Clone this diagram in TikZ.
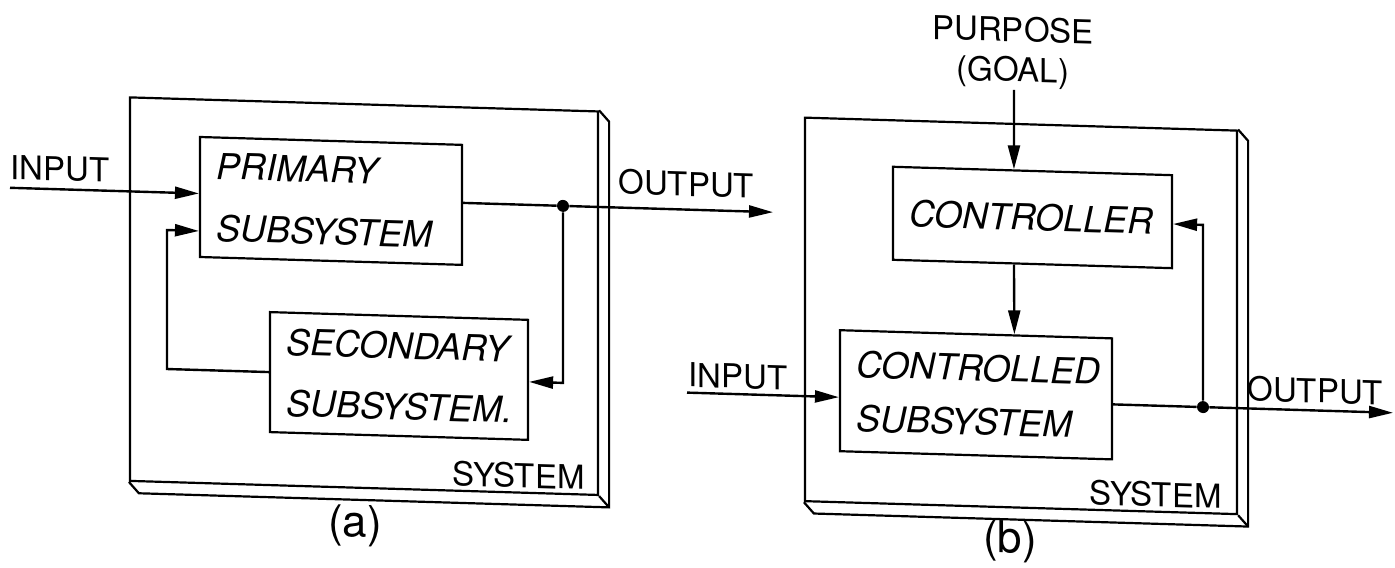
\documentclass[tikz,border=0pt]{standalone}
\usepackage{fontspec}
\setmainfont{TeX Gyre Heros}
\usetikzlibrary{arrows.meta,calc}
\begin{document}
\begin{tikzpicture}[x=0.5pt,y=-0.5pt,
  conn/.style={line width=1.2pt,-{Triangle[length=12pt,width=6pt]}},
  wire/.style={line width=1.2pt},
  slab/.style={draw,line width=1.1pt,minimum height=191.75pt,inner sep=0pt},
  blk/.style={draw,line width=1.1pt,inner xsep=8pt,inner ysep=0pt,align=left},
  lbl/.style={inner sep=0pt,font=\fontsize{16.5}{20}\selectfont},
  capt/.style={inner sep=0pt,font=\fontsize{22}{24}\selectfont},
  dot/.style={circle,fill,inner sep=0pt,minimum size=6pt},
  band/.style={line width=1.1pt}]
\fill[white] (0,0) rectangle (1395,567);
\useasboundingbox (0,0) rectangle (1395,567);
\begin{scope}[yslant=-0.03,transform shape]
% ---------- (a) ----------
\node[slab,minimum width=234pt] (sysA) at (364,285.25) {};
\draw[band] (sysA.north east) -- ++(10,11) -- ($(sysA.south east)+(10,11)$) -- ($(sysA.south west)+(10,11)$) -- (sysA.south west);
\draw[band] (sysA.south east) -- ++(10,11);
\node[blk,minimum width=131pt,minimum height=60pt,text width=115pt,
  font=\itshape\fontsize{18}{31}\selectfont] (prim) at (331,191) {PRIMARY\\SUBSYSTEM};
\node[blk,minimum width=129pt,minimum height=60pt,text width=113pt,
  font=\itshape\fontsize{18}{30.5}\selectfont] (sec) at (399,364) {SECONDARY\\SUBSYSTEM.};
\node[lbl,anchor=base west] (inAl) at (10,178.7) {INPUT};
\node[lbl,anchor=base west] (outAl) at (618,175.4) {OUTPUT};
\node[lbl,anchor=base east] (sysAl) at (585,472) {SYSTEM};
\node[capt] (capA) at (355,515) {(a)};
\coordinate (inA) at (10,187.5);
\draw[conn] (inA) -- ([yshift=1.75pt]prim.west);
\node[dot] (dA) at (563,189) {};
\draw[wire] ([yshift=1pt]prim.east) -- (dA);
\coordinate (outA) at (773,189);
\draw[conn] (dA) -- (outA);
\coordinate (dA2) at (563,366);
\draw[conn] (dA) -- (dA2) -- ([yshift=-1pt]sec.east);
\coordinate (fa1) at (167,364);
\coordinate (fa2) at (167,225);
\draw[conn] (sec.west) -- (fa1) -- (fa2) -- ([yshift=-17pt]prim.west);
% ---------- (b) ----------
\node[slab,minimum width=216pt] (sysB) at (1021,285.25) {};
\draw[band] (sysB.north east) -- ++(10,11) -- ($(sysB.south east)+(10,11)$) -- ($(sysB.south west)+(10,11)$) -- (sysB.south west);
\draw[band] (sysB.south east) -- ++(10,11);
\node[blk,minimum width=139.5pt,minimum height=46.5pt,text width=123.5pt,
  font=\itshape\fontsize{18}{27}\selectfont] (ctrl) at (1032.5,186.5) {CONTROLLER};
\node[blk,minimum width=136pt,minimum height=60.5pt,text width=120pt,
  font=\itshape\fontsize{18}{27}\selectfont] (cs) at (976,365.5) {CONTROLLED\\SUBSYSTEM};
\node[lbl,anchor=north,align=center] (purp) at (1013,-14) {PURPOSE\\(GOAL)};
\node[lbl,anchor=base west] (inBl) at (688,366.3) {INPUT};
\node[lbl,anchor=base west] (outBl) at (1247,363.4) {OUTPUT};
\node[lbl,anchor=base east] (sysBl) at (1222,472) {SYSTEM};
\node[capt] (capB) at (1010,511) {(b)};
\coordinate (pTop) at (1014,59.5);
\draw[conn] (pTop) -- ($(ctrl.north west)!0.434!(ctrl.north east)$);
\draw[conn] ($(ctrl.south west)!0.434!(ctrl.south east)$) -- ($(cs.north west)!0.64!(cs.north east)$);
\coordinate (inB) at (687,372);
\draw[conn] (inB) -- ([yshift=-3.25pt]cs.west);
\node[dot] (dB) at (1203,371) {};
\draw[wire] ([yshift=-2.75pt]cs.east) -- (dB);
\coordinate (outB) at (1393,371);
\draw[conn] (dB) -- (outB);
\coordinate (fb) at (1203,188.8);
\draw[conn] (dB) -- (fb) -- ([yshift=-1.15pt]ctrl.east);
\end{scope}
\end{tikzpicture}
\end{document}
